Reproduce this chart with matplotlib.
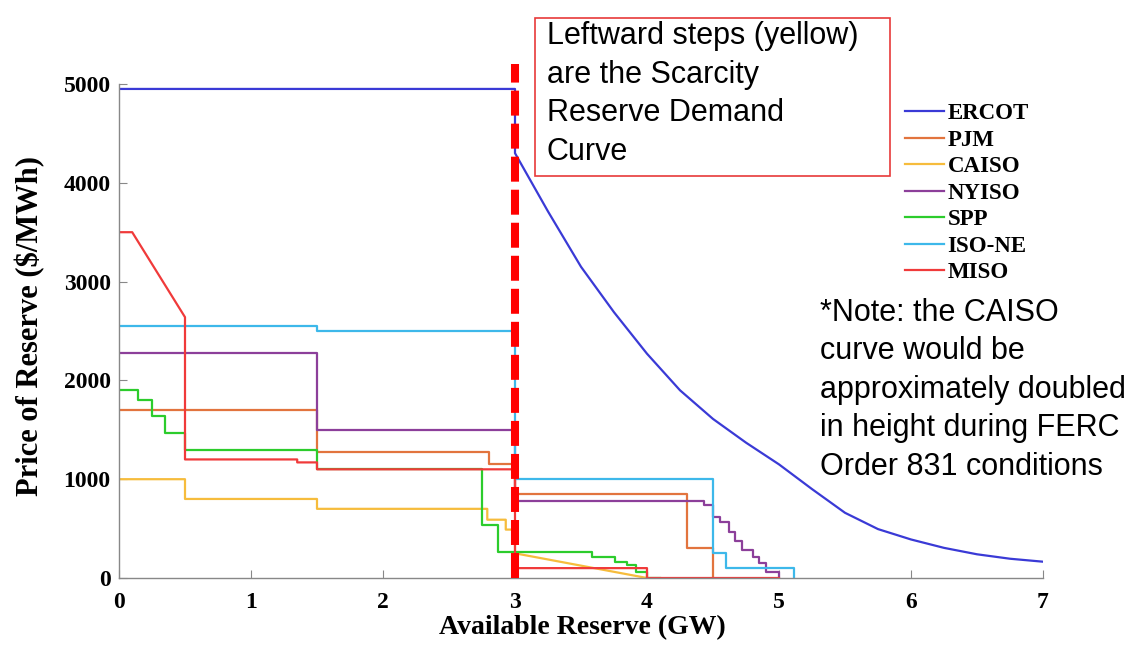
import matplotlib
matplotlib.use("Agg")
import matplotlib.pyplot as plt
from matplotlib.patches import Rectangle

# ---------------- data ----------------
ercot_x = [0, 3.0, 3.0, 3.25, 3.5, 3.75, 4.0, 4.25, 4.5, 4.75, 5.0, 5.25, 5.5, 5.75, 6.0, 6.25, 6.5, 6.75, 7.0]
ercot_y = [4950, 4950, 4300, 3710, 3150, 2690, 2270, 1900, 1610, 1370, 1150, 900, 660, 495, 390, 305, 240, 195, 165]

pjm_x = [0, 1.5, 1.5, 2.8, 2.8, 3.0, 3.0, 4.3, 4.3, 4.5, 4.5]
pjm_y = [1700, 1700, 1280, 1280, 1150, 1150, 850, 850, 300, 300, 0]

caiso_x = [0, 0.5, 0.5, 1.5, 1.5, 2.79, 2.79, 2.93, 2.93, 3.0, 3.0, 4.0]
caiso_y = [1000, 1000, 800, 800, 700, 700, 590, 590, 490, 490, 250, 0]

nyiso_x = [0, 1.5, 1.5, 3.0, 3.0, 4.43, 4.43, 4.5, 4.5, 4.55, 4.55, 4.62, 4.62, 4.67, 4.67,
           4.72, 4.72, 4.80, 4.80, 4.85, 4.85, 4.90, 4.90, 5.0, 5.0]
nyiso_y = [2280, 2280, 1500, 1500, 775, 775, 740, 740, 620, 620, 570, 570, 470, 470, 370,
           370, 285, 285, 215, 215, 150, 150, 65, 65, 0]

spp_x = [0, 0.146, 0.146, 0.25, 0.25, 0.35, 0.35, 0.5, 0.5, 1.5, 1.5, 2.75, 2.75, 2.87, 2.87,
         3.58, 3.58, 3.76, 3.76, 3.85, 3.85, 3.92, 3.92, 4.0, 4.0, 4.1]
spp_y = [1900, 1900, 1800, 1800, 1640, 1640, 1470, 1470, 1300, 1300, 1100, 1100, 540, 540, 260,
         260, 215, 215, 165, 165, 130, 130, 65, 65, 0, 0]

isone_x = [0, 1.5, 1.5, 3.0, 3.0, 4.5, 4.5, 4.6, 4.6, 5.11, 5.11]
isone_y = [2550, 2550, 2500, 2500, 1000, 1000, 250, 250, 100, 100, 0]

miso_x = [0, 0.1, 0.5, 0.5, 1.35, 1.35, 1.5, 1.5, 3.0, 3.0, 4.0, 4.0, 5.0]
miso_y = [3500, 3500, 2640, 1200, 1200, 1170, 1170, 1100, 1100, 100, 100, 0, 0]

scarcity_x = 3.0
scarcity_top = 5200

x_ticks = [0, 1, 2, 3, 4, 5, 6, 7]
y_ticks = [0, 1000, 2000, 3000, 4000, 5000]

series = [
    ("ERCOT", ercot_x, ercot_y, "#3a3ad6"),
    ("PJM", pjm_x, pjm_y, "#e2743e"),
    ("CAISO", caiso_x, caiso_y, "#f6bc3c"),
    ("NYISO", nyiso_x, nyiso_y, "#8c3f9a"),
    ("SPP", spp_x, spp_y, "#2ccc2c"),
    ("ISO-NE", isone_x, isone_y, "#3db8ea"),
    ("MISO", miso_x, miso_y, "#f03a3a"),
]

box_text = "Leftward steps (yellow)\nare the Scarcity\nReserve Demand\nCurve"
note_text = "*Note: the CAISO\ncurve would be\napproximately doubled\nin height during FERC\nOrder 831 conditions"

# ---------------- figure ----------------
W, H = 1135, 648
fig = plt.figure(figsize=(W / 100, H / 100), dpi=100)
ax = fig.add_axes([119 / W, 1 - 578 / H, (1043 - 119) / W, (578 - 84) / H])

serif = ["Liberation Serif", "DejaVu Serif"]
sans = ["Liberation Sans", "DejaVu Sans"]

for name, xs, ys, c in series:
    ax.plot(xs, ys, color=c, lw=1.6, label=name, solid_joinstyle="round")

ax.plot([scarcity_x, scarcity_x], [0, scarcity_top], color="#ff0000", lw=5.8,
        dashes=(3.1, 1.0), dash_capstyle="butt", clip_on=False, zorder=5)

ax.set_xlim(0, 7)
ax.set_ylim(0, 5000)
ax.set_xticks(x_ticks)
ax.set_yticks(y_ticks)
ax.set_xticklabels([str(t) for t in x_ticks], family=serif, weight="bold", fontsize=17)
ax.set_yticklabels([str(t) for t in y_ticks], family=serif, weight="bold", fontsize=17)
ax.tick_params(axis="both", direction="in", length=6, width=0.8, color="#888888")
ax.tick_params(axis="x", pad=10)
ax.tick_params(axis="y", pad=6)
for s in ["top", "right"]:
    ax.spines[s].set_visible(False)
for s in ["left", "bottom"]:
    ax.spines[s].set_color("#888888")
    ax.spines[s].set_linewidth(1.0)

ax.set_xlabel("Available Reserve (GW)", family=serif, weight="bold", fontsize=20)
ax.set_ylabel("Price of Reserve ($/MWh)", family=serif, weight="bold", fontsize=22)
ax.xaxis.set_label_coords((582 - 119) / (1043 - 119), (578 - 615) / 494)
ax.yaxis.set_label_coords((45 - 119) / (1043 - 119), (578 - 326) / 494)

leg = ax.legend(loc="upper left", bbox_to_anchor=(905 / W, 1 - 103 / H),
                bbox_transform=fig.transFigure, frameon=False,
                prop={"family": serif, "weight": "bold", "size": 16.5},
                handlelength=1.7, handletextpad=0.15, labelspacing=0.24,
                borderaxespad=0, borderpad=0)

# annotation box
fig.patches.append(Rectangle((535 / W, 1 - 176 / H), (890 - 535) / W, (176 - 18) / H,
                             transform=fig.transFigure, fill=False,
                             edgecolor="#e83a3a", lw=1.2))
fig.text(547 / W, 1 - 160 / H, box_text, family=sans, fontsize=22,
         va="baseline", ha="left", linespacing=1.37)
fig.text(820 / W, 1 - 475 / H, note_text, family=sans, fontsize=22,
         va="baseline", ha="left", linespacing=1.37)

fig.savefig("out.png", dpi=100)
